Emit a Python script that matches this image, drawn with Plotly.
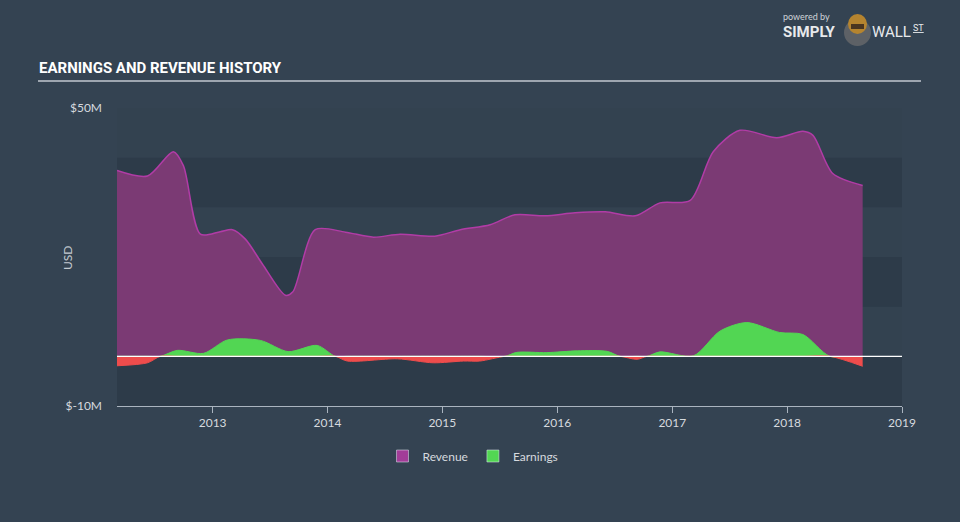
import plotly.graph_objects as go

# ---------------- data ----------------
rev_dates = ["2012-03-03", "2012-06-08", "2012-08-29", "2012-09-30", "2012-11-23",
             "2013-01-25", "2013-03-05", "2013-04-15", "2013-06-08", "2013-08-20",
             "2013-09-13", "2013-11-23", "2014-02-27", "2014-05-27", "2014-08-20",
             "2014-12-08", "2015-02-27", "2015-06-02", "2015-08-20", "2015-11-23",
             "2016-02-27", "2016-06-02", "2016-09-05", "2016-11-23", "2017-02-27",
             "2017-05-11", "2017-08-04", "2017-11-29", "2018-02-20", "2018-03-24",
             "2018-05-26", "2018-08-29"]
revenue = [37.4, 36.3, 41.2, 38.4, 24.6,
           25.1, 25.5, 23.6, 18.6, 12.3,
           13.0, 25.5, 25.0, 24.0, 24.6,
           24.2, 25.5, 26.5, 28.5, 28.3,
           28.9, 29.1, 28.3, 30.9, 31.4,
           41.2, 45.5, 44.0, 45.3, 44.5,
           36.8, 34.4]

earn_dates = ["2012-03-03", "2012-06-08", "2012-07-19", "2012-09-11", "2012-12-03",
              "2013-02-17", "2013-06-02", "2013-08-29", "2013-11-29", "2014-01-26",
              "2014-03-05", "2014-08-11", "2014-12-03", "2015-03-09", "2015-04-30",
              "2015-07-19", "2015-08-26", "2015-11-29", "2016-03-05", "2016-06-08",
              "2016-07-19", "2016-09-11", "2016-10-13", "2016-11-23", "2017-03-09",
              "2017-06-02", "2017-08-26", "2017-12-08", "2018-02-20", "2018-05-17",
              "2018-08-29"]
earnings = [-1.9, -1.3, 0.0, 1.2, 0.6,
            3.3, 3.2, 0.95, 2.2, 0.0,
            -0.95, -0.5, -1.3, -0.95, -0.95,
            0.0, 0.8, 0.75, 1.1, 1.0,
            0.0, -0.6, 0.0, 0.9, 0.1,
            5.1, 6.8, 4.8, 4.4, 0.0,
            -2.0]

year_ticks = ["2013", "2014", "2015", "2016", "2017", "2018", "2019"]
y_tick_vals = [50, -10]
y_tick_text = ["$50M", "$-10M"]
x_range = ["2012-03-03", "2019-01-01"]
y_range = [-10, 50]

# ---------------- styling ----------------
PAGE_BG = "#344352"
PLOT_BG = "#334250"
BAND = "#2d3b49"
AXIS = "#aab4bf"
TXT = "#d6dadf"
FONT = "Lato, Roboto, 'Noto Sans', sans-serif"

earn_pos = [max(v, 0) for v in earnings]
earn_neg = [min(v, 0) for v in earnings]

fig = go.Figure()

fig.add_trace(go.Scatter(
    x=rev_dates, y=revenue, mode="lines", line=dict(color="#b13ca6", width=1.5, shape="spline", smoothing=0.8),
    fill="tozeroy", fillcolor="#7b3a74", showlegend=False, hoverinfo="skip"))
fig.add_trace(go.Scatter(
    x=earn_dates, y=earn_pos, mode="lines", line=dict(color="#52d653", width=1, shape="spline", smoothing=0.8),
    fill="tozeroy", fillcolor="#52d653", showlegend=False, hoverinfo="skip"))
fig.add_trace(go.Scatter(
    x=earn_dates, y=earn_neg, mode="lines", line=dict(color="#ee4c4c", width=1, shape="spline", smoothing=0.8),
    fill="tozeroy", fillcolor="#ee4c4c", showlegend=False, hoverinfo="skip"))

# legend entries
fig.add_trace(go.Bar(x=[None], y=[None], name="Revenue", marker_color="#a23c98"))
fig.add_trace(go.Bar(x=[None], y=[None], name="Earnings", marker_color="#52d653"))

# background bands
for y0, y1 in [(30, 40), (10, 20), (-10, 0)]:
    fig.add_shape(type="rect", xref="paper", yref="y", x0=0, x1=1, y0=y0, y1=y1,
                  fillcolor=BAND, line_width=0, layer="below")

# zero line
fig.add_shape(type="line", xref="paper", yref="y", x0=0, x1=1, y0=0, y1=0,
              line=dict(color="white", width=1.2), layer="above")


def px_x(p):
    return (p - 117) / 785


def px_y(p):
    return (406 - p) / 298


def note(text, x, y, size, color, family=FONT, xanchor="center", **kw):
    fig.add_annotation(text=text, xref="paper", yref="paper", x=px_x(x), y=px_y(y),
                       xanchor=xanchor, yanchor="middle", showarrow=False,
                       font=dict(family=family, size=size, color=color), **kw)


# title + underline
fig.add_shape(type="line", xref="paper", yref="paper", x0=px_x(38), x1=px_x(921),
              y0=px_y(81), y1=px_y(81), line=dict(color="#9ea6b0", width=2))
note("<b>EARNINGS AND REVENUE HISTORY</b>", 37, 68, 15, "white",
     family="Roboto, sans-serif", xanchor="left")

note("USD", 67, 258, 12, "#c4cad1", textangle=-90)

# logo
note("powered by", 806, 16, 9, "#cfd3d8")
note("<b>SIMPLY</b>", 809, 32, 15, "#e8eaec", family="Roboto, sans-serif")
fig.add_shape(type="circle", xref="paper", yref="paper", x0=px_x(844), x1=px_x(871),
              y0=px_y(46), y1=px_y(19), fillcolor="#5d6166", line_width=0)
fig.add_shape(type="circle", xref="paper", yref="paper", x0=px_x(848), x1=px_x(867),
              y0=px_y(34), y1=px_y(14), fillcolor="#b5842f", line_width=0)
fig.add_shape(type="rect", xref="paper", yref="paper", x0=px_x(851), x1=px_x(864),
              y0=px_y(29), y1=px_y(24), fillcolor="#4a3520", line_width=0)
note("WALL", 891, 32, 15, "#e8eaec", family="Roboto, sans-serif")
note("<u>ST</u>", 918, 28, 9, "#e8eaec", family="Roboto, sans-serif")

fig.update_layout(
    width=960, height=522,
    margin=dict(l=117, r=58, t=108, b=116),
    paper_bgcolor=PAGE_BG, plot_bgcolor=PLOT_BG,
    font=dict(family=FONT, color=TXT, size=12),
    showlegend=True,
    legend=dict(orientation="h", x=px_x(473), xanchor="center", y=px_y(456), yanchor="middle",
                font=dict(family=FONT, size=12, color=TXT), bgcolor="rgba(0,0,0,0)"),
    xaxis=dict(type="date", range=x_range, showgrid=False, zeroline=False,
               tickvals=[t + "-01-01" for t in year_ticks], ticktext=year_ticks,
               ticks="outside", ticklen=6, tickcolor=AXIS, showline=True, linecolor=AXIS,
               linewidth=1, tickfont=dict(size=12, color=TXT)),
    yaxis=dict(range=y_range, showgrid=False, zeroline=False, tickvals=y_tick_vals,
               ticktext=y_tick_text, ticks="", ticklabelstandoff=14,
               tickfont=dict(size=12, color=TXT)),
)

fig.write_html("out.html", config={"displayModeBar": False},
               post_script="document.body.style.margin='0';document.body.style.overflow='hidden';")
